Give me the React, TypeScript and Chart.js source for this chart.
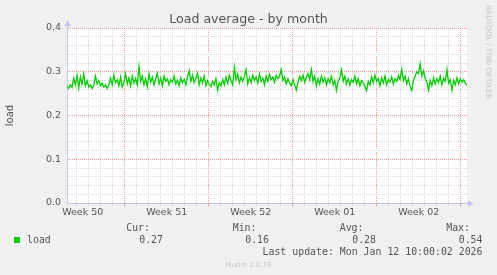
import React, { useEffect, useRef } from "react";
import { Chart, registerables } from "chart.js";

Chart.register(...registerables);

const TITLE = "Load average - by month";
const Y_LABEL = "load";
const SERIES_NAME = "load";
const SERIES_COLOR = "#00cc00";
const WEEK_LABELS = ["Week 50", "Week 51", "Week 52", "Week 01", "Week 02"];
// x axis unit: days since Mon 2025-12-08 00:00 (start of Week 50)
const X_START = 2.19;
const X_END = 35.52;
const Y_MIN = 0;
const Y_MAX = 0.4;
const Y_MINOR = 0.02;
const Y_MAJOR = 0.1;

const LOAD_VALUES = [
  0.266, 0.262, 0.27, 0.264, 0.285, 0.27, 0.292, 0.263, 0.288, 0.272,
  0.295, 0.268, 0.28, 0.265, 0.27, 0.262, 0.268, 0.29, 0.272, 0.28,
  0.268, 0.274, 0.265, 0.27, 0.262, 0.268, 0.285, 0.27, 0.292, 0.275,
  0.282, 0.268, 0.288, 0.265, 0.276, 0.295, 0.272, 0.286, 0.268, 0.29,
  0.274, 0.285, 0.27, 0.312, 0.278, 0.29, 0.27, 0.284, 0.266, 0.295,
  0.276, 0.288, 0.27, 0.284, 0.296, 0.272, 0.286, 0.268, 0.29, 0.278,
  0.284, 0.27, 0.282, 0.276, 0.29, 0.272, 0.28, 0.268, 0.286, 0.275,
  0.283, 0.27, 0.288, 0.302, 0.278, 0.292, 0.275, 0.285, 0.296, 0.27,
  0.286, 0.274, 0.29, 0.268, 0.28, 0.272, 0.266, 0.278, 0.27, 0.284,
  0.258, 0.275, 0.268, 0.282, 0.27, 0.288, 0.274, 0.292, 0.28, 0.27,
  0.31, 0.282, 0.295, 0.275, 0.288, 0.278, 0.29, 0.305, 0.272, 0.286,
  0.275, 0.292, 0.28, 0.288, 0.274, 0.295, 0.278, 0.286, 0.27, 0.29,
  0.278, 0.294, 0.282, 0.288, 0.276, 0.292, 0.284, 0.29, 0.305, 0.28,
  0.288, 0.272, 0.284, 0.275, 0.268, 0.282, 0.27, 0.258, 0.276, 0.29,
  0.28, 0.292, 0.276, 0.288, 0.296, 0.282, 0.305, 0.278, 0.29, 0.268,
  0.284, 0.272, 0.29, 0.276, 0.286, 0.27, 0.284, 0.275, 0.29, 0.27,
  0.28, 0.257, 0.278, 0.286, 0.305, 0.278, 0.29, 0.272, 0.284, 0.27,
  0.282, 0.276, 0.29, 0.272, 0.284, 0.268, 0.28, 0.274, 0.266, 0.257,
  0.278, 0.27, 0.288, 0.275, 0.292, 0.278, 0.284, 0.268, 0.286, 0.274,
  0.29, 0.27, 0.282, 0.276, 0.288, 0.272, 0.284, 0.278, 0.292, 0.282,
  0.305, 0.28, 0.29, 0.272, 0.284, 0.266, 0.257, 0.28, 0.29, 0.3,
  0.296, 0.318, 0.29, 0.302, 0.285, 0.276, 0.258, 0.28, 0.268, 0.286,
  0.272, 0.284, 0.276, 0.29, 0.27, 0.285, 0.278, 0.305, 0.274, 0.282,
  0.258, 0.28, 0.27, 0.286, 0.272, 0.284, 0.276, 0.282, 0.274, 0.268,
];

const STAT_HEADERS = ["Cur:", "Min:", "Avg:", "Max:"];
const STAT_VALUES = ["0.27", "0.16", "0.28", "0.54"];
const LAST_UPDATE = "Last update: Mon Jan 12 10:00:02 2026";
const FOOTER = "Munin 2.0.76";
const WATERMARK = "RRDTOOL / TOBI OETIKER";

const TEXT_COLOR = "#555555";
const MINOR_GRID = "rgba(214,214,214,1)";
const MAJOR_GRID = "rgba(240,150,150,1)";
const AXIS_COLOR = "#c4c4ec";
const MONO = '"DejaVu Sans Mono", monospace';
const SANS = '"DejaVu Sans", sans-serif';

const near = (a: number, b: number) => Math.abs(a - b) < 1e-6;

function xGridColor(v: number) {
  if (!near(v, Math.round(v))) return "rgba(0,0,0,0)";
  return Math.round(v) % 7 === 0 ? MAJOR_GRID : MINOR_GRID;
}
function yIsMajor(v: number) {
  const k = v / Y_MAJOR;
  return near(k, Math.round(k));
}

const muninPlugin = {
  id: "muninDecor",
  beforeDraw(chart: any) {
    const { ctx, chartArea: a, width, height } = chart;
    ctx.save();
    ctx.fillStyle = "#f0f0f0";
    ctx.fillRect(0, 0, width, height);
    ctx.fillStyle = "#ffffff";
    ctx.fillRect(a.left, a.top, a.right - a.left, a.bottom - a.top);
    ctx.restore();
  },
  afterDraw(chart: any) {
    const { ctx, chartArea: a, width } = chart;
    ctx.save();
    // axis arrows
    ctx.fillStyle = AXIS_COLOR;
    ctx.strokeStyle = AXIS_COLOR;
    ctx.lineWidth = 1;
    ctx.beginPath();
    ctx.moveTo(a.left + 0.5, a.top);
    ctx.lineTo(a.left + 0.5, a.top - 3);
    ctx.stroke();
    ctx.beginPath();
    ctx.moveTo(a.left + 0.5, a.top - 8);
    ctx.lineTo(a.left - 2.5, a.top - 2);
    ctx.lineTo(a.left + 3.5, a.top - 2);
    ctx.closePath();
    ctx.fill();
    ctx.beginPath();
    ctx.moveTo(a.right, a.bottom + 0.5);
    ctx.lineTo(a.right + 2, a.bottom + 0.5);
    ctx.stroke();
    ctx.beginPath();
    ctx.moveTo(a.right + 7, a.bottom + 0.5);
    ctx.lineTo(a.right + 1, a.bottom - 2.5);
    ctx.lineTo(a.right + 1, a.bottom + 3.5);
    ctx.closePath();
    ctx.fill();

    // legend
    const ds = chart.data.datasets[0];
    ctx.fillStyle = ds.borderColor;
    ctx.fillRect(14, 237, 6, 6);
    ctx.font = `9.9px ${MONO}`;
    ctx.fillStyle = TEXT_COLOR;
    ctx.textBaseline = "alphabetic";
    ctx.textAlign = "left";
    ctx.fillText(ds.label, 27, 242.5);
    const headerRight = [150, 256.5, 363.5, 470];
    const valueRight = [163, 269, 376, 482.5];
    ctx.textAlign = "right";
    STAT_HEADERS.forEach((h, i) => ctx.fillText(h, headerRight[i], 231));
    STAT_VALUES.forEach((v, i) => ctx.fillText(v, valueRight[i], 242.5));
    ctx.fillText(LAST_UPDATE, 482.5, 255);

    // footer
    ctx.font = `7px ${SANS}`;
    ctx.fillStyle = "#c8c8c8";
    ctx.textAlign = "center";
    ctx.fillText(FOOTER, width / 2, 266.5);

    // watermark
    ctx.translate(487.7, 5);
    ctx.rotate(Math.PI / 2);
    ctx.font = `7.3px ${SANS}`;
    ctx.fillStyle = "#c8c8c8";
    ctx.textAlign = "left";
    ctx.textBaseline = "middle";
    ctx.fillText(WATERMARK, 0, 0);
    ctx.restore();
  },
};

export default function App() {
  const ref = useRef<HTMLCanvasElement | null>(null);

  useEffect(() => {
    if (!ref.current) return;
    Chart.defaults.font.family = SANS;
    const step = (X_END - X_START) / (LOAD_VALUES.length - 1);
    const points = LOAD_VALUES.map((y, i) => ({ x: X_START + i * step, y }));

    const chart = new Chart(ref.current, {
      type: "line",
      data: {
        datasets: [
          {
            label: SERIES_NAME,
            data: points,
            borderColor: SERIES_COLOR,
            backgroundColor: SERIES_COLOR,
            borderWidth: 1.3,
            pointRadius: 0,
            tension: 0,
            fill: false,
          },
        ],
      },
      options: {
        animation: false,
        responsive: false,
        maintainAspectRatio: false,
        events: [],
        layout: { padding: 0 },
        plugins: {
          legend: { display: false },
          tooltip: { enabled: false },
          title: {
            display: true,
            text: TITLE,
            color: TEXT_COLOR,
            font: { size: 12.6, weight: "normal", family: SANS },
            padding: { top: 12, bottom: 0.88 },
          },
        },
        scales: {
          x: {
            type: "linear",
            position: "bottom",
            min: X_START,
            max: X_END,
            afterBuildTicks: (s: any) => {
              const t: any[] = [];
              for (let v = Math.ceil(X_START * 2) / 2; v <= X_END + 1e-9; v += 0.5) t.push({ value: v });
              s.ticks = t;
            },
            afterFit: (s: any) => {
              s.height = 72;
            },
            ticks: {
              autoSkip: false,
              maxRotation: 0,
              minRotation: 0,
              padding: 1,
              color: TEXT_COLOR,
              font: { size: 9.5 },
              callback: (v: any) => {
                const k = (Number(v) - 3.5) / 7;
                const r = Math.round(k);
                return near(k, r) && r >= 0 && r < WEEK_LABELS.length ? WEEK_LABELS[r] : "";
              },
            },
            grid: {
              color: (c: any) => xGridColor(c.tick.value),
              tickColor: (c: any) => xGridColor(c.tick.value),
              tickLength: 3,
              lineWidth: 1,
            },
            border: { display: true, color: AXIS_COLOR, width: 1, dash: () => [1, 1] },
          },
          y: {
            type: "linear",
            position: "left",
            min: Y_MIN,
            max: Y_MAX,
            afterBuildTicks: (s: any) => {
              const t: any[] = [];
              const n = Math.round((Y_MAX - Y_MIN) / Y_MINOR);
              for (let i = 0; i <= n; i++) t.push({ value: Math.round((Y_MIN + i * Y_MINOR) * 1000) / 1000 });
              s.ticks = t;
            },
            afterFit: (s: any) => {
              s.width = 67;
            },
            ticks: {
              autoSkip: false,
              padding: 6,
              color: TEXT_COLOR,
              font: { size: 9.5 },
              callback: (v: any) => (yIsMajor(Number(v)) ? Number(v).toFixed(1) : ""),
            },
            grid: {
              color: (c: any) => {
                const v = c.tick.value;
                if (near(v, Y_MIN)) return "rgba(0,0,0,0)";
                return yIsMajor(v) ? MAJOR_GRID : MINOR_GRID;
              },
              drawTicks: false,
              lineWidth: 1,
            },
            border: { display: true, color: AXIS_COLOR, width: 1, dash: () => [1, 1] },
            title: {
              display: true,
              text: Y_LABEL,
              color: TEXT_COLOR,
              font: { size: 10 },
              padding: { top: 4, bottom: 0 },
            },
          },
          yRight: {
            type: "linear",
            position: "right",
            display: true,
            grid: { display: false, drawTicks: false },
            border: { display: false },
            ticks: { display: false },
            afterFit: (s: any) => {
              s.width = 30;
            },
          },
        },
      },
      plugins: [muninPlugin],
    } as any);

    return () => chart.destroy();
  }, []);

  return (
    <div style={{ position: "absolute", left: 0, top: 0, width: 497, height: 275 }}>
      <canvas ref={ref} width={497} height={275} style={{ display: "block" }} />
    </div>
  );
}
